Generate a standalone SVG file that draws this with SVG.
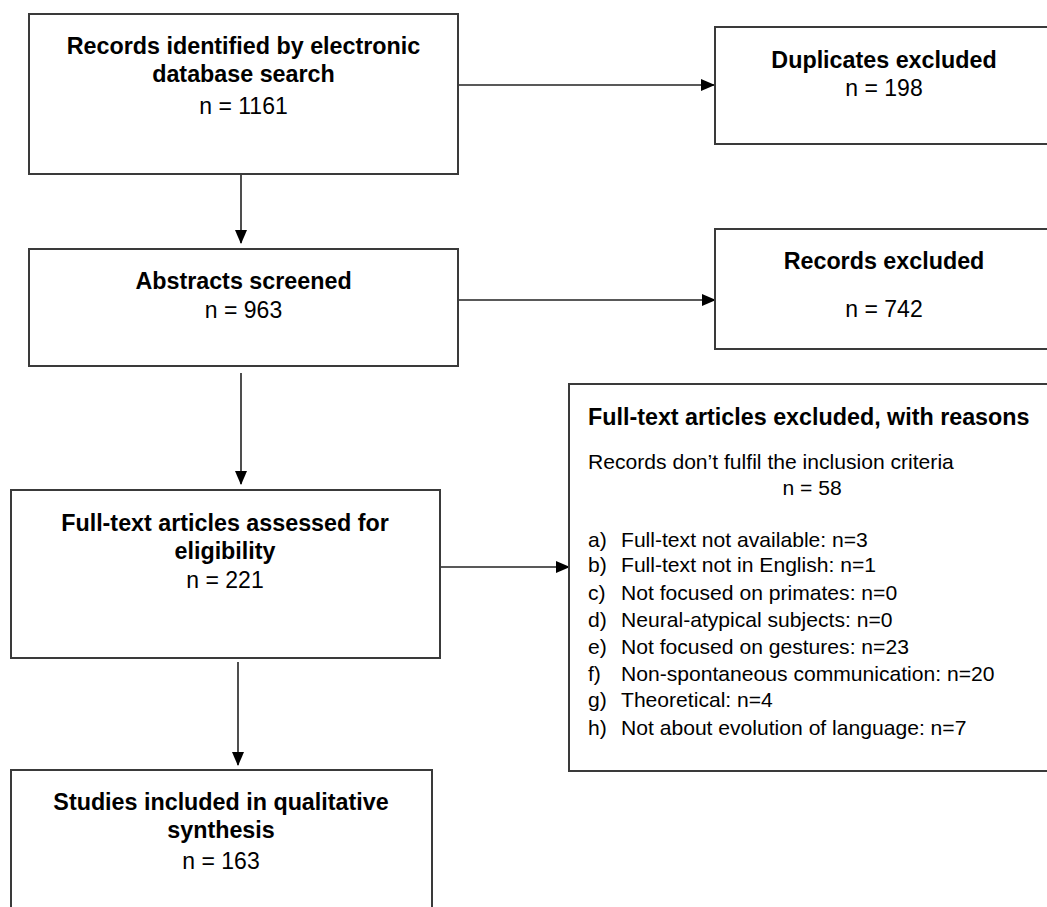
<svg xmlns="http://www.w3.org/2000/svg" width="1047" height="907" viewBox="0 0 1047 907">
<style>
.box{fill:#fff;stroke:#3a3a3a;stroke-width:2}
.b{font-family:"Liberation Sans",Arial,sans-serif;font-weight:bold;font-size:23.3px;fill:#000}
.r{font-family:"Liberation Sans",Arial,sans-serif;font-size:23px;fill:#000}
.s{font-family:"Liberation Sans",Arial,sans-serif;font-size:21.1px;fill:#000}
.c{text-anchor:middle}
.edge{stroke:#222;stroke-width:1.6;fill:none}
</style>
<defs>
<marker id="ah" markerUnits="userSpaceOnUse" markerWidth="14" markerHeight="12" refX="13" refY="6" orient="auto">
<path d="M0,0 L14,6 L0,12 Z" fill="#000"/>
</marker>
</defs>
<rect width="1047" height="907" fill="#fff"/>
<g id="connectors">
<line class="edge" x1="241" y1="175" x2="241" y2="243" marker-end="url(#ah)"/>
<line class="edge" x1="459" y1="85" x2="714" y2="85" marker-end="url(#ah)"/>
<line class="edge" x1="459" y1="300" x2="715" y2="300" marker-end="url(#ah)"/>
<line class="edge" x1="241" y1="373" x2="241" y2="484" marker-end="url(#ah)"/>
<line class="edge" x1="441" y1="567" x2="569" y2="567" marker-end="url(#ah)"/>
<line class="edge" x1="238" y1="662" x2="238" y2="765" marker-end="url(#ah)"/>
</g>
<g id="records-identified">
<rect class="box" x="29" y="14" width="429" height="160"/>
<text class="b c" x="243.5" y="54">Records identified by electronic</text>
<text class="b c" x="243.5" y="82">database search</text>
<text class="r c" x="243.5" y="114">n = 1161</text>
</g>
<g id="duplicates">
<rect class="box" x="715" y="27" width="345" height="117"/>
<text class="b c" x="884" y="68">Duplicates excluded</text>
<text class="r c" x="884" y="96">n = 198</text>
</g>
<g id="abstracts">
<rect class="box" x="29" y="249" width="429" height="117"/>
<text class="b c" x="243.5" y="289">Abstracts screened</text>
<text class="r c" x="243.5" y="318">n = 963</text>
</g>
<g id="records-excluded">
<rect class="box" x="715" y="229" width="345" height="120"/>
<text class="b c" x="884" y="269">Records excluded</text>
<text class="r c" x="884" y="317">n = 742</text>
</g>
<g id="fulltext-assessed">
<rect class="box" x="11" y="490" width="429" height="168"/>
<text class="b c" x="225" y="531">Full-text articles assessed for</text>
<text class="b c" x="225" y="559">eligibility</text>
<text class="r c" x="225" y="588">n = 221</text>
</g>
<g id="fulltext-excluded">
<rect class="box" x="569" y="384" width="490" height="387"/>
<text class="b" x="588" y="425">Full-text articles excluded, with reasons</text>
<text class="s" x="588" y="469">Records don’t fulfil the inclusion criteria</text>
<text class="s c" x="812" y="495">n = 58</text>
<g class="s">
<text x="588" y="547">a)</text><text x="621" y="547">Full-text not available: n=3</text>
<text x="588" y="572">b)</text><text x="621" y="572">Full-text not in English: n=1</text>
<text x="588" y="600">c)</text><text x="621" y="600">Not focused on primates: n=0</text>
<text x="588" y="627">d)</text><text x="621" y="627">Neural-atypical subjects: n=0</text>
<text x="588" y="654">e)</text><text x="621" y="654">Not focused on gestures: n=23</text>
<text x="588" y="681">f)</text><text x="621" y="681">Non-spontaneous communication: n=20</text>
<text x="588" y="707">g)</text><text x="621" y="707">Theoretical: n=4</text>
<text x="588" y="735">h)</text><text x="621" y="735">Not about evolution of language: n=7</text>
</g>
</g>
<g id="studies-included">
<rect class="box" x="11" y="770" width="421" height="150"/>
<text class="b c" x="221" y="810">Studies included in qualitative</text>
<text class="b c" x="221" y="838">synthesis</text>
<text class="r c" x="221" y="869">n = 163</text>
</g>
</svg>
